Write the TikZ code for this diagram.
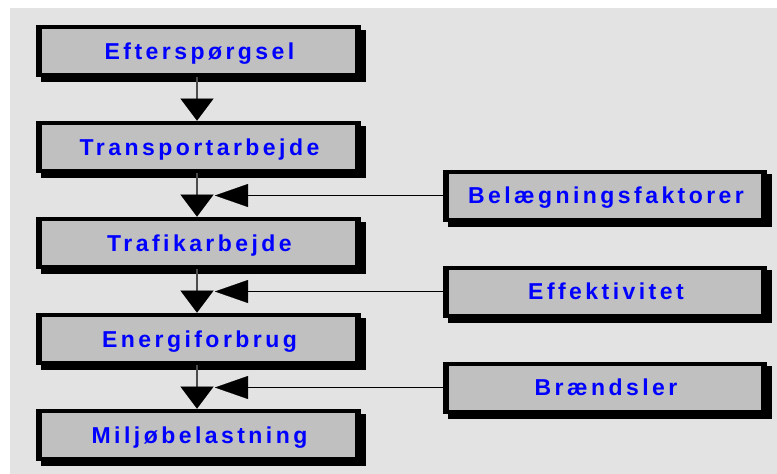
\documentclass[tikz,border=0pt]{standalone}
\usepackage{fontspec}
\setmainfont{Liberation Sans}
\newfontfamily\lblfont{Liberation Sans}[LetterSpace=15]
\usetikzlibrary{arrows.meta,backgrounds}
\definecolor{bggray}{RGB}{227,227,227}
\definecolor{boxgray}{RGB}{192,192,192}
\definecolor{txtblue}{RGB}{0,0,255}
\tikzset{
  boxnode/.style={fill=black, minimum width=325pt, minimum height=52pt, inner sep=0pt,
    text=txtblue, font=\lblfont\bfseries\fontsize{23}{23}\selectfont,
    text height=16.5pt, text depth=0pt,
    execute at begin node={\hspace*{2pt}},
    path picture={\fill[boxgray] ([xshift=6pt,yshift=4pt]path picture bounding box.south west)
      rectangle ([xshift=-6pt,yshift=-4pt]path picture bounding box.north east);}},
  flowline/.style={draw=black!70, line width=1.2pt,
    -{Triangle[length=22pt,width=33pt,black,line width=0.1pt]}},
  sideline/.style={draw=black, line width=1pt,
    -{Triangle[length=33pt,width=23pt,black,line width=0.1pt]}},
  shadowfill/.style={fill=black}
}
\begin{document}
\begin{tikzpicture}[x=1pt,y=-1pt]
\useasboundingbox (0,0) rectangle (777,474);
\node[boxnode] (b1) at (198.5,50.8) {Efterspørgsel};
\node[boxnode] (b2) at (198.5,146.8) {Transportarbejde};
\node[boxnode] (b3) at (198.5,242.8) {Trafikarbejde};
\node[boxnode] (b4) at (198.5,338.8) {Energiforbrug};
\node[boxnode] (b5) at (198.5,434.8) {Miljøbelastning};
\node[boxnode, minimum width=324pt] (r1) at (605,195.5) {Belægningsfaktorer};
\node[boxnode, minimum width=324pt] (r2) at (605,291.5) {Effektivitet};
\node[boxnode, minimum width=324pt] (r3) at (605,387.5) {Brændsler};
\begin{scope}[on background layer]
  \fill[bggray] (10,8) rectangle (777,474);
  \foreach \n in {b1,b2,b3,b4,b5,r1,r2,r3}
    \fill[shadowfill] ([shift={(5pt,-5pt)}]\n.south west) rectangle ([shift={(5pt,-5pt)}]\n.north east);
\end{scope}
\draw[flowline] ([xshift=-1.5pt]b1.south) -- ([xshift=-1.5pt]b2.north);
\draw[flowline] ([xshift=-1.5pt]b2.south) -- ([xshift=-1.5pt]b3.north);
\draw[flowline] ([xshift=-1.5pt]b3.south) -- ([xshift=-1.5pt]b4.north);
\draw[flowline] ([xshift=-1.5pt]b4.south) -- ([xshift=-1.5pt]b5.north);
\path (b2.south |- r1.west) ++(16.5pt,0pt) coordinate (t1);
\path (b3.south |- r2.west) ++(16.5pt,0pt) coordinate (t2);
\path (b4.south |- r3.west) ++(16.5pt,0pt) coordinate (t3);
\draw[sideline] (r1.west) -- (t1);
\draw[sideline] (r2.west) -- (t2);
\draw[sideline] (r3.west) -- (t3);
\end{tikzpicture}
\end{document}
